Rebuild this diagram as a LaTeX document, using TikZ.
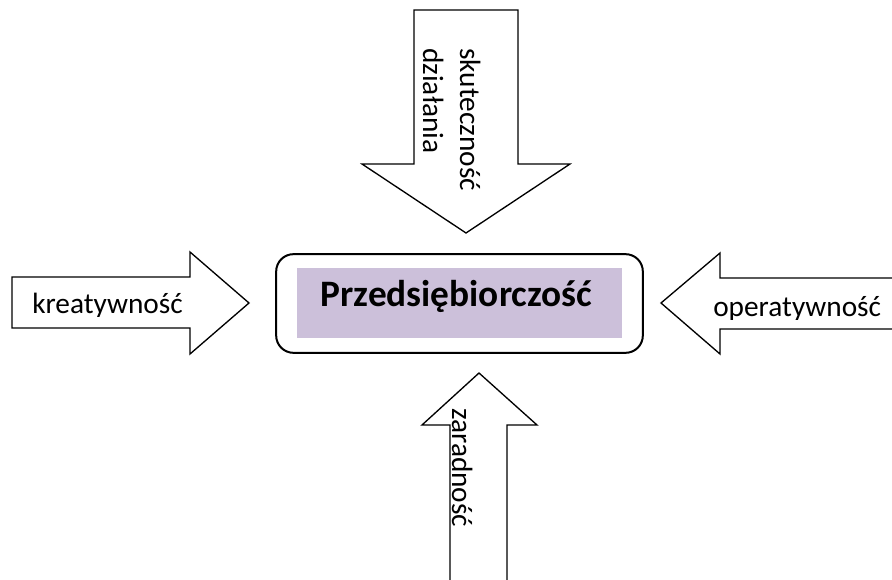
\documentclass[tikz,border=0pt]{standalone}
\usepackage{fontspec}
\setmainfont{Carlito}
\usepackage{xcolor}
\usetikzlibrary{positioning}

\definecolor{lavender}{HTML}{CCC0DA}

\begin{document}
\begin{tikzpicture}[x=0.75pt, y=-0.75pt,
  blockarrow/.style={draw, line width=1pt, fill=white, line join=miter},
  arrowtext/.style={font=\fontsize{22}{27.75}\selectfont, inner sep=0pt, align=left},
  mainbox/.style={draw, line width=1.5pt, rounded corners=13pt, minimum width=275pt, minimum height=74pt},
  titlefill/.style={fill=lavender, minimum width=244pt, minimum height=52.5pt, inner sep=0pt},
  titletext/.style={font=\fontsize{28}{34}\selectfont\bfseries, inner sep=0pt}
]
\useasboundingbox (0,0) rectangle (892,580);
\clip (0,0) rectangle (892,580);

% block arrows
\draw[blockarrow] (414,10) -- (518,10) -- (518,164) -- (570,164) -- (466,233) -- (362,164) -- (414,164) -- cycle;
\draw[blockarrow] (12,277) -- (190,277) -- (190,252) -- (249,303) -- (190,354) -- (190,328) -- (12,328) -- cycle;
\draw[blockarrow] (900,278) -- (720,278) -- (720,253) -- (661,303) -- (720,354) -- (720,329) -- (900,329) -- cycle;
\draw[blockarrow] (450,590) -- (450,425) -- (422,425) -- (479,373) -- (537,425) -- (507,425) -- (507,590) -- cycle;

% centre
\node[mainbox] (main) at (459.5,303.5) {};
\node[titlefill] (fill) at (459.5,303) {};
\node[titletext, anchor=base] (title) at (456.5,307) {Przedsiębiorczość};

% labels
\node[arrowtext, rotate=-90, anchor=base west] (skut) at (423,48) {skuteczność\\działania};
\node[arrowtext, rotate=-90, anchor=base west] (zar) at (452,408) {zaradność};
\begin{scope}
  \clip (0,0) rectangle (892,317);
  \node[arrowtext, anchor=base west] (kre) at (32,314) {kreatywność};
\end{scope}
\begin{scope}
  \clip (0,0) rectangle (892,320);
  \node[arrowtext, anchor=base west] (ope) at (713,317) {operatywność};
\end{scope}
\end{tikzpicture}
\end{document}
